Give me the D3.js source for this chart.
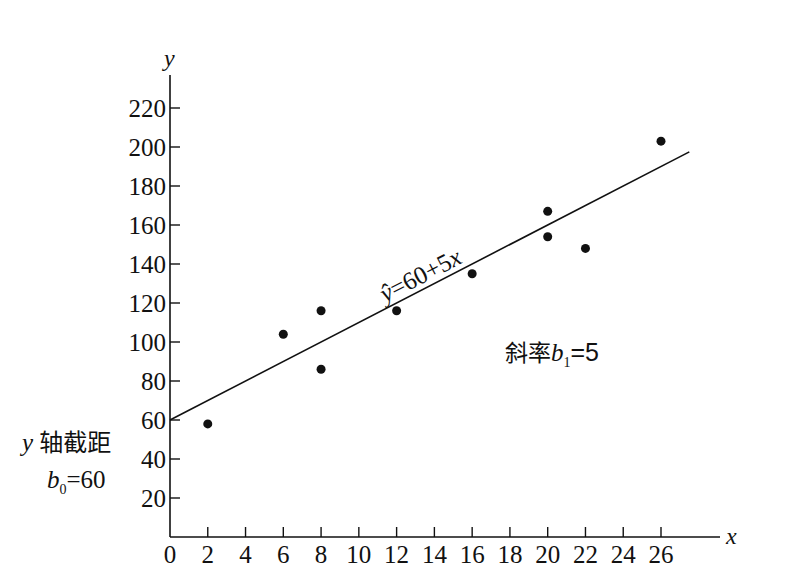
<!DOCTYPE html><html><head><meta charset="utf-8"><script src="https://cdn.jsdelivr.net/npm/d3@7"></script>
<style>body{margin:0;background:#fff}</style></head><body><svg id="c" width="804" height="571" font-family="'Times New Roman','Liberation Serif','DejaVu Serif',serif"></svg><script>
const xs=[2,6,8,8,12,16,20,20,22,26];
const ys=[58,104,116,86,116,135,167,154,148,203];
const xTicks=[0,2,4,6,8,10,12,14,16,18,20,22,24,26];
const yTicks=[20,40,60,80,100,120,140,160,180,200,220];
const b0=60,b1=5;
const svg=d3.select("#c");
const x=d3.scaleLinear().domain([0,26]).range([170,661]);
const y=d3.scaleLinear().domain([0,220]).range([537,108]);
const g=svg.append("g").attr("fill","#111");
g.append("line").attr("x1",170).attr("x2",720).attr("y1",537).attr("y2",537).attr("stroke","#111").attr("stroke-width",1.6);
g.append("line").attr("x1",170).attr("x2",170).attr("y1",537).attr("y2",75).attr("stroke","#111").attr("stroke-width",1.6);
xTicks.forEach(t=>{if(t>0)g.append("line").attr("x1",x(t)).attr("x2",x(t)).attr("y1",537).attr("y2",527).attr("stroke","#111").attr("stroke-width",1.4);
 g.append("text").attr("x",x(t)).attr("y",563).attr("text-anchor","middle").attr("font-size",25).text(t);});
yTicks.forEach(t=>{g.append("line").attr("x1",170).attr("x2",180).attr("y1",y(t)).attr("y2",y(t)).attr("stroke","#111").attr("stroke-width",1.4);
 g.append("text").attr("x",166).attr("y",y(t)+9).attr("text-anchor","end").attr("font-size",25).text(t);});
g.append("text").attr("x",726).attr("y",544).attr("font-size",24).attr("font-style","italic").text("x");
g.append("text").attr("x",164).attr("y",66).attr("font-size",24).attr("font-style","italic").text("y");
const xe=27.5;
g.append("line").attr("x1",x(0)).attr("y1",y(b0)).attr("x2",x(xe)).attr("y2",y(b0+b1*xe)).attr("stroke","#111").attr("stroke-width",1.6);
g.selectAll("circle").data(xs).join("circle").attr("cx",(d)=>x(d)).attr("cy",(d,i)=>y(ys[i])).attr("r",4.5).attr("fill","#111");
const ang=Math.atan2(y(b0+b1*20)-y(b0),x(20)-x(0))*180/Math.PI;
const lt=g.append("text").attr("transform",`translate(${x(11.4)},${y(b0+b1*11.4)-6}) rotate(${ang})`).attr("font-size",25);
lt.append("tspan").attr("font-style","italic").text("ŷ");lt.append("tspan").text("=60+5");lt.append("tspan").attr("font-style","italic").text("x");
const s=g.append("text").attr("x",505).attr("y",361).attr("font-size",25);
s.append("tspan").attr("font-family","Noto Sans CJK SC").attr("font-size",23).text("斜率");
s.append("tspan").attr("font-style","italic").text("b");s.append("tspan").attr("font-size",14).attr("dy",6).text("1");s.append("tspan").attr("dy",-6).attr("font-family","Liberation Sans, sans-serif").text("=5");
const a=g.append("text").attr("x",22).attr("y",451).attr("font-size",25);
a.append("tspan").attr("font-style","italic").text("y ");a.append("tspan").attr("font-family","Noto Sans CJK SC").attr("font-size",24).text("轴截距");
const b=g.append("text").attr("x",47).attr("y",488).attr("font-size",25);
b.append("tspan").attr("font-style","italic").text("b");b.append("tspan").attr("font-size",14).attr("dy",6).text("0");b.append("tspan").attr("dy",-6).text("=60");
</script></body></html>
